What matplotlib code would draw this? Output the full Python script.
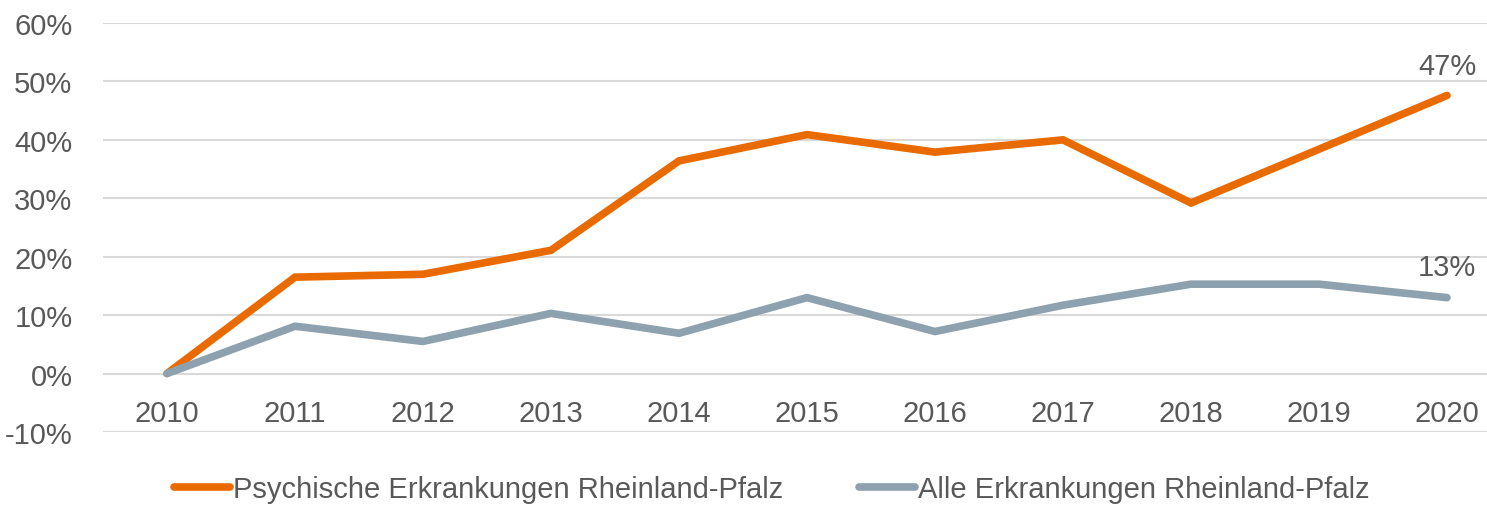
import matplotlib
matplotlib.use("Agg")
import matplotlib.pyplot as plt

# ---------- Daten ----------
jahre = ["2010", "2011", "2012", "2013", "2014", "2015", "2016", "2017", "2018", "2019", "2020"]
psychische = [0, 16.5, 17.0, 21.1, 36.4, 40.9, 37.9, 40.0, 29.2, 38.4, 47.6]
alle = [0, 8.1, 5.5, 10.3, 6.9, 13.0, 7.2, 11.7, 15.3, 15.3, 13.0]
y_ticks = [-10, 0, 10, 20, 30, 40, 50, 60]

label_psych = "Psychische Erkrankungen Rheinland-Pfalz"
label_alle = "Alle Erkrankungen Rheinland-Pfalz"

orange = "#E96B00"
grau = "#8DA2AE"
text_farbe = "#595959"

plt.rcParams["font.family"] = ["Liberation Sans Narrow", "Liberation Sans", "DejaVu Sans"]

W, H = 1487, 506
fig = plt.figure(figsize=(W / 100, H / 100), dpi=100)
left, right, top, bottom = 103, 1511, 24, 433
ax = fig.add_axes([left / W, 1 - bottom / H, (right - left) / W, (bottom - top) / H])

x = list(range(len(jahre)))
ax.plot(x, psychische, color=orange, lw=5.5, solid_capstyle="round", solid_joinstyle="miter",
        label=label_psych, zorder=3)
ax.plot(x, alle, color=grau, lw=5.5, solid_capstyle="round", solid_joinstyle="miter",
        label=label_alle, zorder=3)

ax.set_xlim(-0.5, len(jahre) - 0.5)
ax.set_ylim(-10, 60)
ax.set_yticks(y_ticks)
ax.set_yticklabels([f"{v}%" for v in y_ticks])
ax.set_xticks(x)
ax.set_xticklabels(jahre)

ax.grid(axis="y", color="#D9D9D9", lw=1.5)
ax.set_axisbelow(True)
for s in ax.spines.values():
    s.set_visible(False)
ax.spines["bottom"].set_position(("data", 0))

ax.tick_params(axis="both", length=0, labelsize=21, colors=text_farbe)
ax.tick_params(axis="y", pad=22)
ax.tick_params(axis="x", pad=18)

# Datenbeschriftung am Ende
ax.annotate(f"{int(psychische[-1])}%", (x[-1], psychische[-1]), xytext=(0, 11),
            textcoords="offset points", ha="center", va="bottom", fontsize=21, color=text_farbe)
ax.annotate(f"{int(alle[-1])}%", (x[-1], alle[-1]), xytext=(0, 12),
            textcoords="offset points", ha="center", va="bottom", fontsize=21, color=text_farbe)

leg = fig.legend(loc="center", bbox_to_anchor=(772 / W, 1 - 490 / H), ncol=2, frameon=False,
                 fontsize=21, handlelength=1.9, handletextpad=0.12, columnspacing=2.6,
                 borderpad=0, borderaxespad=0)
for t in leg.get_texts():
    t.set_color(text_farbe)

fig.savefig("out.png", dpi=100)
